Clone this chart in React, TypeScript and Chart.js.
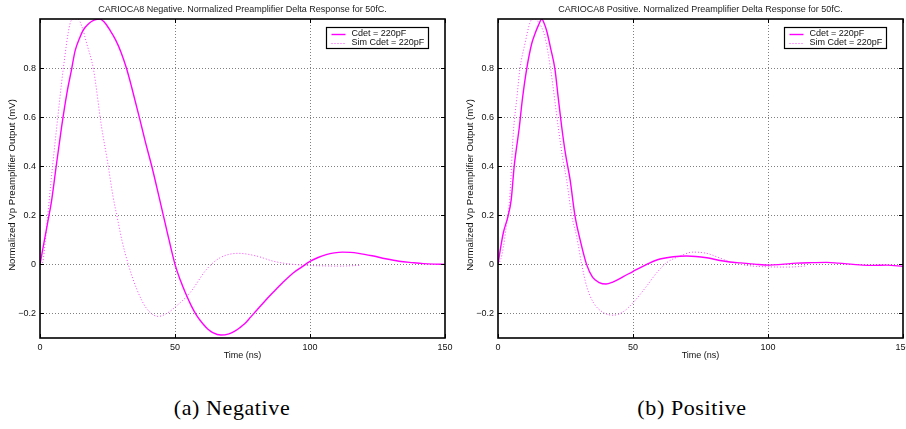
import React, { useEffect, useRef } from "react";
import { Chart, registerables } from "chart.js";

Chart.register(...registerables);

const FONT = '"Liberation Sans", Arial, Helvetica, sans-serif';

// Axis ticks
const xTickValues = [0, 50, 100, 150];
const xTickLabels = ["0", "50", "100", "150"];
const yTickValues = [-0.2, 0, 0.2, 0.4, 0.6, 0.8];
const yTickLabels = ["\u22120.2", "0", "0.2", "0.4", "0.6", "0.8"];
const seriesLabels = ["Cdet = 220pF", "Sim Cdet = 220pF"];
const yAxisLabel = "Normalized Vp Preamplifier Output (mV)";
const xAxisLabel = "Time (ns)";
const titles = [
  "CARIOCA8 Negative. Normalized Preamplifier Delta Response for 50fC.",
  "CARIOCA8 Positive. Normalized Preamplifier Delta Response for 50fC.",
];
const captions = ["(a) Negative", "(b) Positive"];

// (a) Negative – measured
const negMeasT = [0, 1, 2, 3, 4.3, 6, 8, 10, 11.7, 13, 14.8, 16, 17.9, 20, 22.2, 24, 25.9, 28, 30, 32, 34, 37, 39, 41.4, 44.2, 46.9, 50, 52, 54, 56, 58, 60, 62, 64, 67, 70, 72, 74, 76, 78, 80, 83, 86, 90, 94, 97, 100, 103, 106, 109, 112, 115, 118, 123, 128, 133, 138, 142, 146, 150];
const negMeasV = [0, 0.06, 0.12, 0.18, 0.26, 0.4, 0.56, 0.7, 0.795, 0.87, 0.926, 0.955, 0.98, 0.995, 1.0, 0.985, 0.955, 0.915, 0.865, 0.8, 0.72, 0.59, 0.5, 0.4, 0.27, 0.142, 0, -0.065, -0.12, -0.168, -0.208, -0.238, -0.262, -0.278, -0.288, -0.283, -0.273, -0.258, -0.24, -0.215, -0.19, -0.153, -0.118, -0.073, -0.033, -0.01, 0.012, 0.028, 0.04, 0.047, 0.05, 0.049, 0.045, 0.035, 0.023, 0.013, 0.007, 0.003, 0.001, 0];
// (a) Negative – simulated
const negSimT = [0, 1, 2, 4, 6.2, 8.6, 11.1, 12.5, 14, 15.5, 17.3, 19.8, 22.8, 25, 27, 29, 30.3, 32.7, 35.8, 39.5, 43.8, 47.5, 50.6, 55.6, 61.7, 66.7, 73.5, 80.2, 86.4, 91.4, 98.8, 105, 111, 118.5];
const negSimV = [0, 0.01, 0.1, 0.33, 0.56, 0.795, 0.98, 1.0, 1.0, 0.97, 0.9, 0.795, 0.56, 0.42, 0.28, 0.17, 0.1, 0, -0.1, -0.18, -0.212, -0.196, -0.169, -0.115, -0.02, 0.027, 0.045, 0.034, 0.013, 0.003, -0.004, -0.006, -0.007, -0.004];

// (b) Positive – measured
const posMeasT = [0, 1, 2, 3.7, 4.9, 6, 7.9, 9, 10.6, 12.5, 13.7, 15, 16.2, 17, 18, 19.5, 21.1, 22.3, 23.6, 25, 26.7, 28.5, 30.4, 32.8, 35, 37.5, 40, 42.5, 46.4, 50.1, 55.1, 58.8, 64.9, 69.9, 77.3, 82.2, 85.8, 90, 95, 100.6, 105, 110.5, 116, 121.6, 126, 131.5, 135, 139, 144, 150];
const posMeasV = [0, 0.07, 0.13, 0.196, 0.264, 0.4, 0.56, 0.67, 0.795, 0.9, 0.94, 0.975, 1.0, 0.985, 0.953, 0.88, 0.795, 0.68, 0.56, 0.45, 0.345, 0.199, 0.101, 0, -0.052, -0.074, -0.08, -0.072, -0.05, -0.028, 0, 0.018, 0.031, 0.034, 0.027, 0.016, 0.01, 0.006, 0.001, -0.003, 0, 0.005, 0.007, 0.008, 0.005, 0, -0.003, -0.004, -0.003, -0.008];
// (b) Positive – simulated
const posSimT = [0, 1, 2, 3, 4.3, 5.7, 7, 8.1, 10, 11.9, 13, 14, 14.8, 16, 17.4, 19.5, 22.3, 24, 25.4, 27.3, 29.1, 31, 32.8, 35.3, 39, 42.7, 46.4, 50.1, 55.1, 58.8, 62.5, 67.4, 72.3, 77.3, 81, 85.8, 90, 94.4, 100, 106.8, 110, 114.2];
const posSimV = [0, 0.02, 0.07, 0.15, 0.264, 0.54, 0.68, 0.795, 0.9, 0.987, 1, 1, 0.99, 0.97, 0.926, 0.795, 0.56, 0.43, 0.345, 0.199, 0.115, 0, -0.088, -0.155, -0.196, -0.207, -0.193, -0.155, -0.088, -0.034, 0.007, 0.034, 0.05, 0.045, 0.031, 0.011, 0, -0.007, -0.01, -0.011, -0.01, -0.006];

const SOLID = "#ff00ff";
const DOTTED = "#ff44ff";

const matlabFrame = {
  id: "matlabFrame",
  beforeDatasetsDraw(chart: any) {
    const { ctx, chartArea: ca, scales } = chart;
    ctx.save();
    ctx.strokeStyle = "#808080";
    ctx.lineWidth = 1;
    ctx.setLineDash([1, 2]);
    for (const v of xTickValues) {
      const x = Math.round(scales.x.getPixelForValue(v)) + 0.5;
      if (x <= ca.left + 1 || x >= ca.right - 1) continue;
      ctx.beginPath();
      ctx.moveTo(x, ca.top);
      ctx.lineTo(x, ca.bottom);
      ctx.stroke();
    }
    for (const v of yTickValues) {
      const y = Math.round(scales.y.getPixelForValue(v)) + 0.5;
      ctx.beginPath();
      ctx.moveTo(ca.left, y);
      ctx.lineTo(ca.right, y);
      ctx.stroke();
    }
    ctx.restore();
  },
  afterDatasetsDraw(chart: any, _args: any, opts: any) {
    const { ctx, chartArea: ca, scales } = chart;
    ctx.save();
    // inward tick marks
    ctx.strokeStyle = "#000";
    ctx.lineWidth = 1;
    const tl = 4;
    for (const v of xTickValues) {
      const x = Math.round(scales.x.getPixelForValue(v)) + 0.5;
      ctx.beginPath();
      ctx.moveTo(x, ca.bottom);
      ctx.lineTo(x, ca.bottom - tl);
      ctx.moveTo(x, ca.top);
      ctx.lineTo(x, ca.top + tl);
      ctx.stroke();
    }
    for (const v of yTickValues) {
      const y = Math.round(scales.y.getPixelForValue(v)) + 0.5;
      ctx.beginPath();
      ctx.moveTo(ca.left, y);
      ctx.lineTo(ca.left + tl, y);
      ctx.moveTo(ca.right, y);
      ctx.lineTo(ca.right - tl, y);
      ctx.stroke();
    }
    // frame
    ctx.lineWidth = 1.6;
    ctx.strokeRect(ca.left, ca.top, ca.right - ca.left, ca.bottom - ca.top);

    // legend
    const lw = 102;
    const lh = 21;
    const lx = Math.round(ca.right - 119) + 0.5;
    const ly = Math.round(ca.top + 8) + 0.5;
    ctx.fillStyle = "#fff";
    ctx.fillRect(lx, ly, lw, lh);
    ctx.lineWidth = 1.2;
    ctx.strokeStyle = "#000";
    ctx.strokeRect(lx, ly, lw, lh);
    ctx.font = `9px ${FONT}`;
    ctx.textAlign = "left";
    ctx.textBaseline = "middle";
    const rows = [ly + 6, ly + 15.5];
    chart.data.datasets.forEach((ds: any, i: number) => {
      ctx.beginPath();
      ctx.strokeStyle = ds.borderColor;
      ctx.lineWidth = ds.borderWidth;
      ctx.setLineDash(ds.borderDash || []);
      ctx.moveTo(lx + 5, Math.round(rows[i]) + 0.5);
      ctx.lineTo(lx + 19, Math.round(rows[i]) + 0.5);
      ctx.stroke();
      ctx.setLineDash([]);
      ctx.fillStyle = "#111";
      ctx.fillText(ds.label, lx + 25, rows[i]);
    });

    // title
    ctx.font = `9px ${FONT}`;
    ctx.fillStyle = "#222";
    ctx.textAlign = "center";
    ctx.textBaseline = "middle";
    ctx.fillText(opts.title, (ca.left + ca.right) / 2, 9.5);

    // y axis label
    ctx.save();
    ctx.translate(12, 185);
    ctx.rotate(-Math.PI / 2);
    ctx.font = `9.6px ${FONT}`;
    ctx.fillStyle = "#111";
    ctx.fillText(yAxisLabel, 0, 0);
    ctx.restore();
    ctx.restore();
  },
};

function toPoints(ts: number[], vs: number[]) {
  return ts.map((t, i) => ({ x: t, y: vs[i] }));
}

function Panel(props: { title: string; mT: number[]; mV: number[]; sT: number[]; sV: number[] }) {
  const ref = useRef<HTMLCanvasElement>(null);
  useEffect(() => {
    if (!ref.current) return;
    const chart = new Chart(ref.current, {
      type: "line",
      data: {
        datasets: [
          {
            label: seriesLabels[0],
            data: toPoints(props.mT, props.mV),
            borderColor: SOLID,
            borderWidth: 1.4,
            pointRadius: 0,
            cubicInterpolationMode: "monotone",
            fill: false,
          },
          {
            label: seriesLabels[1],
            data: toPoints(props.sT, props.sV),
            borderColor: DOTTED,
            borderWidth: 1,
            borderDash: [1, 2],
            pointRadius: 0,
            cubicInterpolationMode: "monotone",
            fill: false,
          },
        ],
      },
      options: {
        animation: false,
        responsive: false,
        maintainAspectRatio: false,
        parsing: false,
        layout: { padding: { top: 19, right: 8, left: 0, bottom: 0 } },
        plugins: {
          legend: { display: false },
          tooltip: { enabled: false },
          title: { display: false },
          matlabFrame: { title: props.title },
        } as any,
        scales: {
          x: {
            type: "linear",
            min: 0,
            max: 150,
            afterBuildTicks: (s: any) => {
              s.ticks = xTickValues.map((v) => ({ value: v }));
            },
            afterFit: (s: any) => {
              s.height = 27;
              s.paddingLeft = 0;
              s.paddingRight = 0;
            },
            grid: { display: false, drawTicks: false },
            border: { display: false },
            ticks: {
              font: { family: FONT, size: 9 },
              color: "#111",
              padding: 4,
              maxRotation: 0,
              autoSkip: false,
              callback: (_v: any, i: number) => xTickLabels[i],
            },
            title: {
              display: true,
              text: xAxisLabel,
              font: { family: FONT, size: 9 },
              color: "#111",
              padding: { top: 0, bottom: 3.6 },
            },
          },
          y: {
            type: "linear",
            min: -0.3,
            max: 1.0,
            afterBuildTicks: (s: any) => {
              s.ticks = yTickValues.map((v) => ({ value: v }));
            },
            afterFit: (s: any) => {
              s.width = 40;
              s.paddingTop = 0;
              s.paddingBottom = 0;
            },
            grid: { display: false, drawTicks: false },
            border: { display: false },
            ticks: {
              font: { family: FONT, size: 9 },
              color: "#111",
              padding: 4,
              autoSkip: false,
              callback: (_v: any, i: number) => yTickLabels[i],
            },
            title: { display: false },
          },
        },
      } as any,
      plugins: [matlabFrame as any],
    });
    return () => chart.destroy();
  }, []);
  return <canvas ref={ref} width={453} height={365} style={{ width: 453, height: 365, display: "block" }} />;
}

export default function App() {
  return (
    <div
      style={{
        position: "absolute",
        left: 0,
        top: 0,
        width: 906,
        height: 429,
        overflow: "hidden",
        background: "#fff",
      }}
    >
      <div style={{ position: "absolute", left: 0, top: 0 }}>
        <Panel title={titles[0]} mT={negMeasT} mV={negMeasV} sT={negSimT} sV={negSimV} />
      </div>
      <div style={{ position: "absolute", left: 458, top: 0 }}>
        <Panel title={titles[1]} mT={posMeasT} mV={posMeasV} sT={posSimT} sV={posSimV} />
      </div>
      {captions.map((c, i) => (
        <div
          key={c}
          style={{
            position: "absolute",
            left: i === 0 ? 232 - 100 : 692 - 100,
            width: 200,
            top: 395,
            textAlign: "center",
            fontFamily: '"Liberation Serif", "Times New Roman", serif',
            fontSize: 22,
            letterSpacing: "0.6px",
            lineHeight: "26px",
            color: "#000",
          }}
        >
          {c}
        </div>
      ))}
    </div>
  );
}
